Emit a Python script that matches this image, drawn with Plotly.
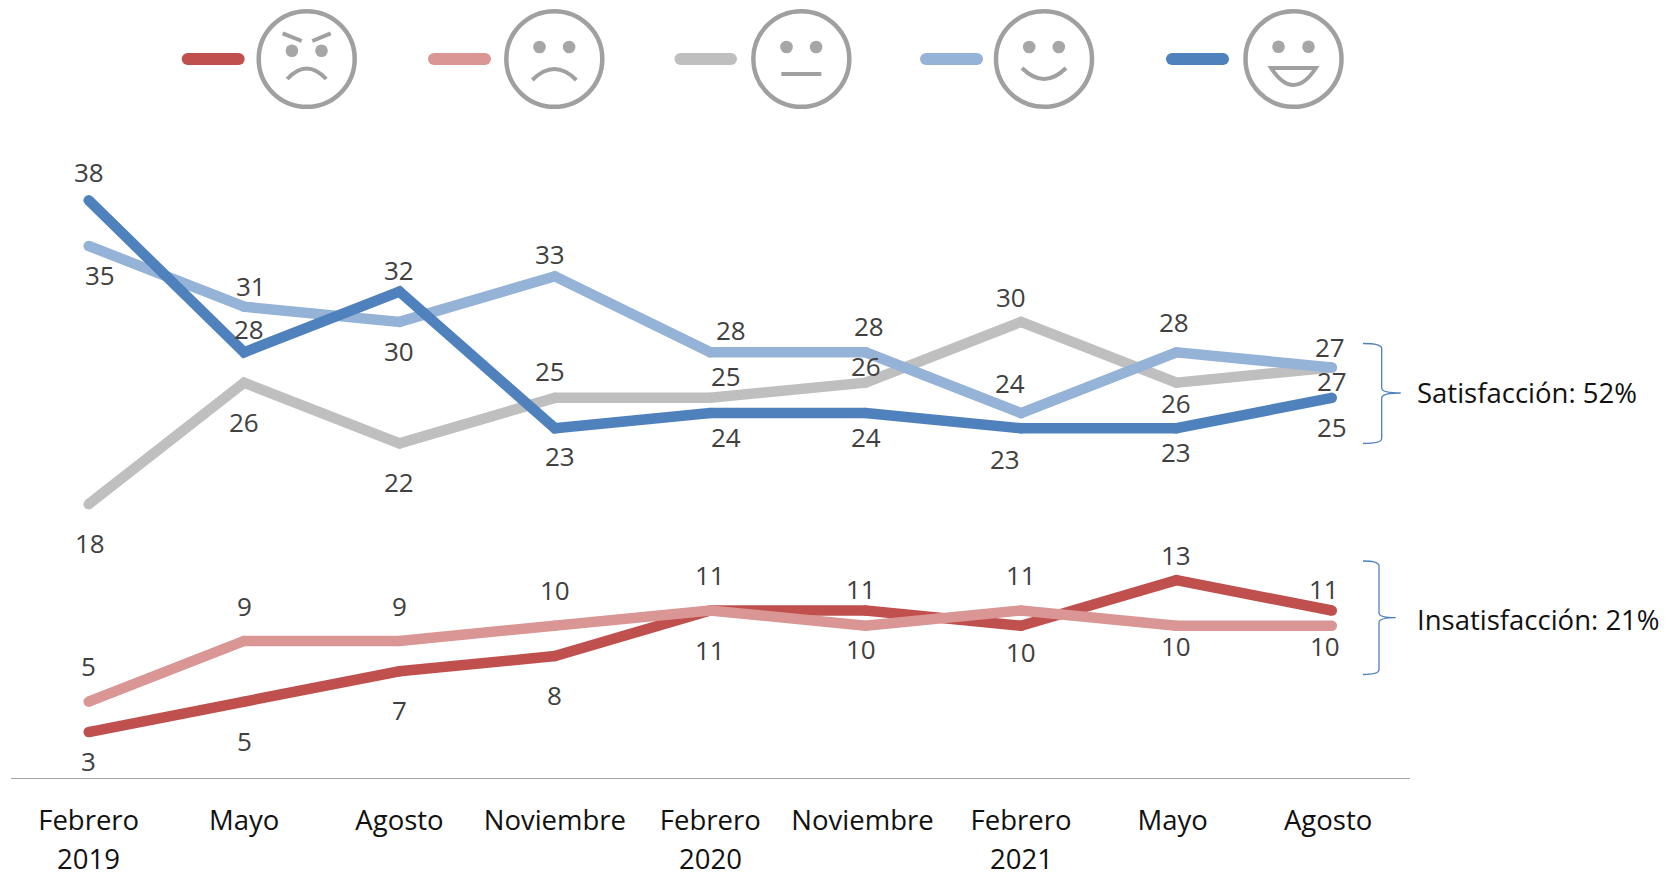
import plotly.graph_objects as go

W, H = 1679, 873

# ---- data ----
months = ["Febrero", "Mayo", "Agosto", "Noviembre", "Febrero", "Noviembre", "Febrero", "Mayo", "Agosto"]
years = ["2019", "", "", "", "2020", "", "2021", "", ""]
muy_insatisfecho = [3, 5, 7, 8, 11, 11, 10, 13, 11]
insatisfecho = [5, 9, 9, 10, 11, 10, 11, 10, 10]
neutral = [18, 26, 22, 25, 25, 26, 30, 26, 27]
satisfecho = [35, 31, 30, 33, 28, 28, 24, 28, 27]
muy_satisfecho = [38, 28, 32, 23, 24, 24, 23, 23, 25]
summary_labels = ["Satisfacción: 52%", "Insatisfacción: 21%"]

# ---- styles ----
C_DRED, C_LRED, C_GRAY, C_LBLUE, C_BLUE = "#c0504d", "#d99694", "#bfbfbf", "#95b3d7", "#4f81bd"
FONT = "Open Sans"
FS = 27.5
LINE_W = 10.5
X_INDEX = list(range(len(months)))
TICK_NUDGE = [0, 0, 0, 0, 0, -0.02, 0, -0.024, -0.024]

# label offsets from their point, px (dx, dy with +dy downward)
OFF_DRED = [(0, 30), (0, 40), (0, 40), (0, 40), (0, 40), (-5, -21), (0, 27), (0, -24), (-8, -21)]
OFF_LRED = [(0, -35), (0, -34), (0, -34), (0, -35), (0, -35), (-5, 24), (0, -35), (0, 21), (-7, 21)]
OFF_GRAY = [(1, 40), (0, 40), (0, 40), (-5, -26), (16, -21), (0, -16), (-10, -24), (0, 21), (0, 15)]
OFF_LBLUE = [(11, 30), (7, -20), (0, 30), (-5, -21), (21, -21), (3, -25), (-11, -29), (-2, -29), (-2, -19)]
OFF_BLUE = [(0, -27), (5, -22), (0, -21), (5, 29), (16, 25), (0, 25), (-16, 32), (0, 25), (0, 30)]
LABEL_LIFT = 1

series = [
    ("Muy insatisfecho", muy_insatisfecho, C_DRED, OFF_DRED),
    ("Insatisfecho", insatisfecho, C_LRED, OFF_LRED),
    ("Neutral", neutral, C_GRAY, OFF_GRAY),
    ("Satisfecho", satisfecho, C_LBLUE, OFF_LBLUE),
    ("Muy satisfecho", muy_satisfecho, C_BLUE, OFF_BLUE),
]

def X(px):
    return px / W

def Y(px):
    return 1 - px / H

fig = go.Figure()
annotations = []
for name, vals, col, offs in series:
    fig.add_trace(go.Scatter(
        x=X_INDEX, y=vals, name=name, mode="lines+markers",
        line=dict(color=col, width=LINE_W),
        marker=dict(color=col, size=LINE_W, line=dict(width=0)),
        hoverinfo="name+y", showlegend=False,
    ))
for name, vals, col, offs in series:
    for i, v in enumerate(vals):
        annotations.append(dict(
            x=i, y=v, xref="x", yref="y", text=str(v), showarrow=False,
            xshift=offs[i][0], yshift=-offs[i][1] + LABEL_LIFT,
            font=dict(family=FONT, size=26, color="#404040"),
        ))

# second line of the category labels
for i, yr in enumerate(years):
    if yr:
        annotations.append(dict(
            x=i, y=Y(858), xref="x", yref="paper", text=yr, showarrow=False,
            xanchor="center", yanchor="middle", height=26,
            font=dict(family=FONT, size=FS, color="#111111"),
        ))

# summaries next to the brackets
for txt, ypx in zip(summary_labels, [393, 619]):
    annotations.append(dict(
        x=X(1415), y=Y(ypx), xref="paper", yref="paper", text=txt, showarrow=False,
        xanchor="left", yanchor="middle", font=dict(family=FONT, size=FS, color="#111111"),
    ))

shapes = []

def path(d, color="#a0a0a0", width=4, fill=None):
    s = dict(type="path", xref="paper", yref="paper", path=d, line=dict(color=color, width=width))
    if fill:
        s["fillcolor"] = fill
    shapes.append(s)

def P(x, y):
    return f"{X(x):.5f},{Y(y):.5f}"

def seg(cx, cy, x1, y1, x2, y2, width=4):
    path(f"M {P(cx+x1, cy+y1)} L {P(cx+x2, cy+y2)}", width=width)

def quad(cx, cy, x1, y1, qx, qy, x2, y2, width=4, close=False):
    tail = " Z" if close else ""
    path(f"M {P(cx+x1, cy+y1)} Q {P(cx+qx, cy+qy)} {P(cx+x2, cy+y2)}{tail}", width=width)

def face(cx, cy=59):
    shapes.append(dict(type="circle", xref="paper", yref="paper",
                       x0=X(cx-48), x1=X(cx+48), y0=Y(cy+47.8), y1=Y(cy-47.8),
                       line=dict(color="#a0a0a0", width=4.5)))

def eyes(cx, dy, cy=59, dx=14.8, r=6.3):
    for sx in (-dx, dx):
        shapes.append(dict(type="circle", xref="paper", yref="paper",
                           x0=X(cx+sx-r), x1=X(cx+sx+r), y0=Y(cy+dy+r), y1=Y(cy+dy-r),
                           fillcolor="#a6a6a6", line=dict(width=0)))

# legend keys
for (x0, x1), col in zip([(187.7, 238.7), (434, 485), (680.5, 731), (926, 977), (1172, 1223)],
                         [C_DRED, C_LRED, C_GRAY, C_LBLUE, C_BLUE]):
    r = 6
    shapes.append(dict(type="rect", xref="paper", yref="paper", x0=X(x0), x1=X(x1),
                       y0=Y(59+r), y1=Y(59-r), fillcolor=col, line=dict(width=0)))
    for xc in (x0, x1):
        shapes.append(dict(type="circle", xref="paper", yref="paper",
                           x0=X(xc-r), x1=X(xc+r), y0=Y(59+r), y1=Y(59-r),
                           fillcolor=col, line=dict(width=0)))

# angry
c = 306.7
face(c); eyes(c, -8.3)
seg(c, 59, -24, -25.7, -5, -18); seg(c, 59, 24, -25.7, 5.6, -18)
quad(c, 59, -19.5, 20, 0, -1, 19.5, 20)
# sad
c = 554.3
face(c); eyes(c, -12)
quad(c, 59, -22, 21, 0, -1, 22, 21)
# neutral
c = 801.3
face(c); eyes(c, -12)
seg(c, 59, -20, 15, 20, 15)
# smile
c = 1044
face(c); eyes(c, -12)
quad(c, 59, -22, 9, 0, 31, 22, 9)
# grin
c = 1293.5
face(c); eyes(c, -12.3, dx=15)
quad(c, 59, -22.4, 9, 0, 43, 22.4, 9, close=True)

# brackets
BR = "#4f81bd"

def bracket(x0, xm, xt, top, mid, bot):
    d = (f"M {P(x0, top)} Q {P(xm, top)} {P(xm, top+5)} L {P(xm, mid-5)} "
         f"Q {P(xm, mid)} {P(xt, mid)} Q {P(xm, mid)} {P(xm, mid+5)} "
         f"L {P(xm, bot-5)} Q {P(xm, bot)} {P(x0, bot)}")
    path(d, color=BR, width=1.3)

bracket(1363, 1381.7, 1400.7, 343.5, 393, 443.5)
bracket(1363, 1379, 1395.7, 561, 617.7, 674.5)

fig.update_layout(
    width=W, height=H, autosize=False,
    margin=dict(l=0, r=0, t=0, b=0, autoexpand=False),
    paper_bgcolor="white", plot_bgcolor="white",
    showlegend=False,
    xaxis=dict(
        domain=[X(11), X(1409.5)], range=[-0.5, 8.5],
        tickmode="array",
        tickvals=[i + n for i, n in zip(X_INDEX, TICK_NUDGE)],
        ticktext=months,
        ticks="outside", ticklen=18, tickcolor="rgba(0,0,0,0)",
        tickangle=0,
        showgrid=False, zeroline=False, showline=True, linecolor="#a6a6a6", linewidth=1.3,
        tickfont=dict(family=FONT, size=FS, color="#111111"),
    ),
    yaxis=dict(
        domain=[Y(777.6), Y(139.6)], range=[0, 42],
        visible=False, showgrid=False, zeroline=False,
    ),
    annotations=annotations,
    shapes=shapes,
)
fig.write_html("out.html", config={"displayModeBar": False},
               post_script="document.body.style.margin='0';")
